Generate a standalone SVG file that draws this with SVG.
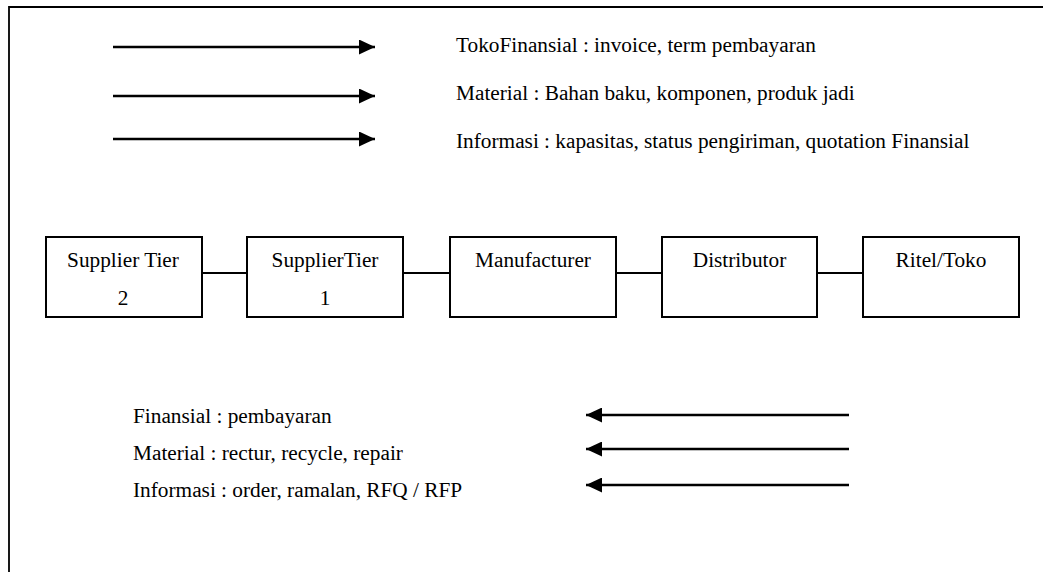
<svg xmlns="http://www.w3.org/2000/svg" width="1043" height="572" viewBox="0 0 1043 572">
<style>
text{font-family:"Liberation Serif","Times New Roman",serif;font-size:21.3px;fill:#000}
.box{fill:#fff;stroke:#000;stroke-width:2}
.ln{stroke:#000;stroke-width:1.8;fill:none}
.ar{stroke:#000;stroke-width:2.5;fill:none}
</style>
<defs>
<marker id="ah" markerWidth="16" markerHeight="15" refX="16" refY="7.5" orient="auto" markerUnits="userSpaceOnUse">
<path d="M0,0 L16,7.5 L0,15 Z" fill="#000"/>
</marker>
</defs>
<rect width="1043" height="572" fill="#fff"/>
<path class="ln" d="M9,572 L9,7 L1043,7"/>
<g id="legend-top">
<text x="456" y="52">TokoFinansial : invoice, term pembayaran</text>
<text x="456" y="100">Material : Bahan baku, komponen, produk jadi</text>
<text x="456" y="148">Informasi : kapasitas, status pengiriman, quotation Finansial</text>
</g>
<g id="legend-bottom">
<text x="133" y="423">Finansial : pembayaran</text>
<text x="133" y="460">Material : rectur, recycle, repair</text>
<text x="133" y="497">Informasi : order, ramalan, RFQ / RFP</text>
</g>
<g id="connectors">
<line class="ar" x1="113" y1="47" x2="375" y2="47" marker-end="url(#ah)"/>
<line class="ar" x1="113" y1="96" x2="375" y2="96" marker-end="url(#ah)"/>
<line class="ar" x1="113" y1="139" x2="375" y2="139" marker-end="url(#ah)"/>
<line class="ar" x1="849" y1="415" x2="586" y2="415" marker-end="url(#ah)"/>
<line class="ar" x1="849" y1="449" x2="586" y2="449" marker-end="url(#ah)"/>
<line class="ar" x1="849" y1="485" x2="586" y2="485" marker-end="url(#ah)"/>
<line class="ln" x1="202" y1="273" x2="247" y2="273"/>
<line class="ln" x1="403" y1="273" x2="450" y2="273"/>
<line class="ln" x1="616" y1="273" x2="662" y2="273"/>
<line class="ln" x1="817" y1="273" x2="863" y2="273"/>
</g>
<g id="supplier-tier-2">
<rect class="box" x="46" y="237" width="156" height="80"/>
<text x="123" y="267" text-anchor="middle">Supplier Tier</text>
<text x="123" y="305" text-anchor="middle">2</text>
</g>
<g id="supplier-tier-1">
<rect class="box" x="247" y="237" width="156" height="80"/>
<text x="325" y="267" text-anchor="middle">SupplierTier</text>
<text x="325" y="305" text-anchor="middle">1</text>
</g>
<g id="manufacturer">
<rect class="box" x="450" y="237" width="166" height="80"/>
<text x="533" y="267" text-anchor="middle">Manufacturer</text>
</g>
<g id="distributor">
<rect class="box" x="662" y="237" width="155" height="80"/>
<text x="739.5" y="267" text-anchor="middle">Distributor</text>
</g>
<g id="ritel-toko">
<rect class="box" x="863" y="237" width="156" height="80"/>
<text x="941" y="267" text-anchor="middle">Ritel/Toko</text>
</g>
</svg>
